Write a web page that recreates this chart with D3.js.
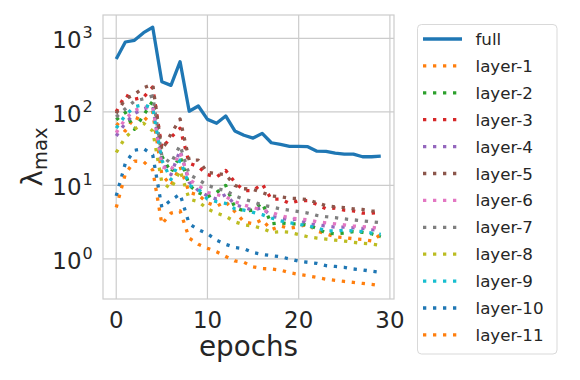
<!DOCTYPE html>
<html>
<head>
<meta charset="utf-8">
<script src="https://cdn.jsdelivr.net/npm/d3@7"></script>
<style>
  body { margin: 0; background: #fff; }
  text { font-family: "DejaVu Sans", sans-serif; fill: #262626; }
</style>
</head>
<body>
<div id="chart"></div>
<script>
epochs = [0,1,2,3,4,5,6,7,8,9,10,11,12,13,14,15,16,17,18,19,20,21,22,23,24,25,26,27,28,29];

full    = [523,891,940,1194,1412,257,229,481,102,120,79,70,88,55,48,44,51,38,36,34,34,33.6,29.2,29,27.4,26.6,26.6,24.5,24.5,25];
layer1  = [70,55,85,75,100,14,10,18,8,7.4,5.8,5.2,6,4.4,3.2,3.0,3.4,2.5,2.8,2.6,2.75,2.95,2.4,2.2,2.0,1.95,1.88,1.84,1.75,2.15];
layer2  = [78,98,58,90,140,25,15,25,10,8,7,8,10,5,4.5,4.6,5.8,3.0,3.1,3.0,3.0,2.9,2.6,2.25,2.2,2.25,2.35,2.3,2.2,2.0];
layer3  = [100,170,148,158,218,32,45,60,20,18,14,13,16,11,8.5,8.5,10.5,6.5,6.5,5.7,6.2,6.2,5.5,4.8,4.9,4.6,4.5,4.2,4.2,4.3];
layer4  = [47,70,95,110,120,20,14,30,11,8.5,7.2,6.5,7.5,5.5,5.0,4.6,5.0,3.8,3.6,3.4,3.5,3.0,2.9,2.8,2.7,2.7,2.65,2.6,2.5,2.45];
layer5  = [95,150,173,213,236,30,50,80,22,22,15,14.5,14,10,9,8.8,8,7.2,7,6.7,6.6,6.4,5.8,5.3,5.1,5.0,4.8,4.7,4.5,4.4];
layer6  = [52,80,105,115,120,18,16,28,12,10,8,7.5,7.0,6.0,5.4,5.0,4.6,4.3,3.9,3.6,3.5,3.4,3.2,3.1,3.0,2.9,2.8,2.75,2.7,2.6];
layer7  = [85,110,140,150,165,25,20,35,14,12,10,9.1,8.5,7.2,6.5,6.0,5.4,5.1,4.8,4.6,4.4,4.2,3.9,3.75,3.65,3.5,3.4,3.3,3.2,3.1];
layer8  = [28,45,58,70,55,11,9,16,6.5,6,4.8,4.2,3.8,3.2,2.9,2.8,2.6,2.3,2.35,2.3,2.15,2.0,1.92,1.86,1.8,1.75,1.68,1.63,1.6,1.53];
layer9  = [60,90,117,125,112,22,12,22,10,8.9,6.5,6,5.7,4.8,4.6,4.3,4.0,3.6,3.3,3.1,2.96,2.8,2.65,2.4,2.4,2.45,2.4,2.35,2.25,2.15];
layer10 = [7.2,20,30,31.6,26,5.0,6.3,7.6,3.0,2.5,2.2,1.8,1.58,1.43,1.38,1.22,1.15,1.11,1.07,1.0,0.93,0.9,0.87,0.81,0.79,0.77,0.73,0.71,0.68,0.655];
layer11 = [5.0,14.3,21.4,21,16.2,2.97,4.2,4.5,1.92,1.58,1.4,1.25,1.08,0.94,0.9,0.78,0.74,0.73,0.705,0.65,0.615,0.59,0.56,0.53,0.51,0.494,0.479,0.464,0.45,0.43];

names = ['full','layer-1','layer-2','layer-3','layer-4','layer-5','layer-6','layer-7','layer-8','layer-9','layer-10','layer-11'];
series = [full,layer1,layer2,layer3,layer4,layer5,layer6,layer7,layer8,layer9,layer10,layer11];
colors = ['#1f77b4','#ff7f0e','#2ca02c','#d62728','#9467bd','#8c564b','#e377c2','#7f7f7f','#bcbd22','#17becf','#1f77b4','#ff7f0e'];

xTicks = [0,10,20,30];
yTicks = [1,10,100,1000];
yExp = ['0','1','2','3'];

const W = 580, H = 380;
const L = 103, R = 394, T = 15, B = 299;

const svg = d3.select('#chart').append('svg')
    .attr('width', W).attr('height', H);

const x = d3.scaleLinear().domain([-1.45, 30.45]).range([L, R]);
const y = d3.scaleLog().domain([10**-0.545, 10**3.317]).range([B, T]);

// grid
svg.selectAll('.gx').data(xTicks).join('line')
    .attr('x1', d => x(d)).attr('x2', d => x(d))
    .attr('y1', T).attr('y2', B)
    .attr('stroke', '#cccccc').attr('stroke-width', 1.2);
svg.selectAll('.gy').data(yTicks).join('line')
    .attr('x1', L).attr('x2', R)
    .attr('y1', d => y(d)).attr('y2', d => y(d))
    .attr('stroke', '#cccccc').attr('stroke-width', 1.2);

// spines
svg.append('rect')
    .attr('x', L).attr('y', T).attr('width', R - L).attr('height', B - T)
    .attr('fill', 'none').attr('stroke', '#cccccc').attr('stroke-width', 1.2);

// tick labels
svg.selectAll('.xt').data(xTicks).join('text')
    .attr('x', d => x(d)).attr('y', 328)
    .attr('text-anchor', 'middle')
    .attr('font-size', 22.9)
    .text(d => d);

const yt = svg.selectAll('.yt').data(yTicks).join('g')
    .attr('transform', d => `translate(0,${y(d)})`);
yt.append('text')
    .attr('x', 81.5).attr('y', 10)
    .attr('text-anchor', 'end')
    .attr('font-size', 22.9)
    .text('10');
yt.append('text')
    .attr('x', 82.5).attr('y', 0)
    .attr('font-size', 16)
    .text((d, i) => yExp[i]);

// axis labels
svg.append('text')
    .attr('x', (L + R) / 2).attr('y', 356)
    .attr('text-anchor', 'middle')
    .attr('font-size', 27.8)
    .text('epochs');

const yl = svg.append('text')
    .attr('transform', `translate(42,${(T + B) / 2}) rotate(-90)`)
    .attr('text-anchor', 'middle')
    .attr('font-size', 27.8);
yl.append('tspan').text('λ');
yl.append('tspan').attr('font-size', 19.5).attr('dy', 5).text('max');

// lines
const line = d3.line()
    .x((d, i) => x(epochs[i]))
    .y(d => y(d));

svg.selectAll('.series').data(series).join('path')
    .attr('d', d => line(d))
    .attr('fill', 'none')
    .attr('stroke', (d, i) => colors[i])
    .attr('stroke-width', (d, i) => i === 0 ? 3.3 : 3.3)
    .attr('stroke-dasharray', (d, i) => i === 0 ? null : '3.3,6.7')
    .attr('stroke-linejoin', 'round');

// legend
const lg = svg.append('g');
lg.append('rect')
    .attr('x', 417.5).attr('y', 24.5).attr('width', 139.5).attr('height', 329.5)
    .attr('rx', 4).attr('ry', 4)
    .attr('fill', '#fff').attr('fill-opacity', 0.8)
    .attr('stroke', '#d9d9d9').attr('stroke-width', 1);

const item = lg.selectAll('.item').data(names).join('g')
    .attr('transform', (d, i) => `translate(0,${39 + 26.9 * i})`);
item.append('line')
    .attr('x1', 423).attr('x2', 462)
    .attr('y1', 0).attr('y2', 0)
    .attr('stroke', (d, i) => colors[i])
    .attr('stroke-width', 3.3)
    .attr('stroke-dasharray', (d, i) => i === 0 ? null : '3.3,6.7');
item.append('text')
    .attr('x', 475.5).attr('y', 6)
    .attr('font-size', 16.7)
    .text(d => d);
</script>
</body>
</html>
